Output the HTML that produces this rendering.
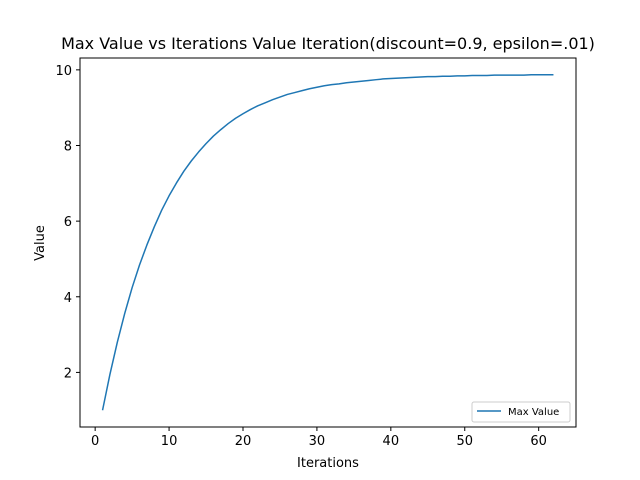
<!DOCTYPE html>
<html><head><meta charset="utf-8"><style>
body{margin:0;background:#fff}
svg{display:block;font-family:"DejaVu Sans","Liberation Sans",sans-serif}
</style></head><body>
<svg id="chart" width="640" height="480" viewBox="0 0 640 480">
<rect width="640" height="480" fill="#fff"/>
<text x="328" y="49" text-anchor="middle" font-size="16">Max Value vs Iterations Value Iteration(discount=0.9, epsilon=.01)</text>
<g id="xticks"></g>
<g id="yticks"></g>
<path id="series" fill="none" stroke="#1f77b4" stroke-width="1.5" stroke-linejoin="round"/>
<rect x="80" y="58" width="496" height="369" fill="none" stroke="#000" stroke-width="1"/>
<text x="328" y="467" text-anchor="middle" font-size="13">Iterations</text>
<text x="44" y="243" text-anchor="middle" font-size="13" transform="rotate(-90 44 243)">Value</text>
<g>
<rect x="472" y="402" width="98" height="20" rx="2" fill="#fff" stroke="#ccc"/>
<line x1="477" y1="411" x2="501" y2="411" stroke="#1f77b4" stroke-width="1.5"/>
<text x="508" y="415" font-size="10">Max Value</text>
</g>
</svg>
<script>
const iterations = [];
for (let i = 1; i <= 62; i++) iterations.push(i);
const maxValues = [1.00,1.95,2.80,3.56,4.24,4.84,5.37,5.85,6.29,6.67,7.01,7.32,7.59,7.83,8.05,8.25,8.42,8.58,8.72,8.84,8.95,9.05,9.13,9.21,9.28,9.35,9.40,9.45,9.50,9.54,9.58,9.61,9.63,9.66,9.68,9.70,9.72,9.74,9.76,9.77,9.78,9.79,9.80,9.81,9.82,9.82,9.83,9.83,9.84,9.84,9.85,9.85,9.85,9.86,9.86,9.86,9.86,9.86,9.87,9.87,9.87,9.87];
const xTickValues = [0,10,20,30,40,50,60];
const yTickValues = [2,4,6,8,10];

const L=80,R=576,T=58,B=427;
const xmin0=Math.min(...iterations), xmax0=Math.max(...iterations);
const ymin0=Math.min(...maxValues), ymax0=Math.max(...maxValues);
const xm=(xmax0-xmin0)*0.05, ym=(ymax0-ymin0)*0.05;
const xmin=xmin0-xm, xmax=xmax0+xm, ymin=ymin0-ym, ymax=ymax0+ym;
const sx=v=>L+(v-xmin)/(xmax-xmin)*(R-L);
const sy=v=>B-(v-ymin)/(ymax-ymin)*(B-T);
const NS="http://www.w3.org/2000/svg";
const xg=document.getElementById('xticks'), yg=document.getElementById('yticks');
xTickValues.forEach(v=>{
  const x=sx(v);
  const l=document.createElementNS(NS,'line');
  l.setAttribute('x1',x);l.setAttribute('x2',x);l.setAttribute('y1',B);l.setAttribute('y2',B+4);l.setAttribute('stroke','#000');
  
  
  xg.appendChild(l);
  const t=document.createElementNS(NS,'text');
  t.setAttribute('x',x);t.setAttribute('y',B+18);t.setAttribute('text-anchor','middle');t.setAttribute('font-size','13');
  t.textContent=v;
  
  
  xg.appendChild(t);
});
yTickValues.forEach(v=>{
  const y=sy(v);
  const l=document.createElementNS(NS,'line');
  l.setAttribute('x1',L-4);l.setAttribute('x2',L);l.setAttribute('y1',y);l.setAttribute('y2',y);l.setAttribute('stroke','#000');
  
  
  yg.appendChild(l);
  const t=document.createElementNS(NS,'text');
  t.setAttribute('x',L-8);t.setAttribute('y',y+5);t.setAttribute('text-anchor','end');t.setAttribute('font-size','13');
  t.textContent=v;
  
  
  yg.appendChild(t);
});
document.getElementById('series').setAttribute('d',
  iterations.map((v,i)=>(i?'L':'M')+sx(v).toFixed(2)+' '+sy(maxValues[i]).toFixed(2)).join(' '));
</script>
</body></html>
